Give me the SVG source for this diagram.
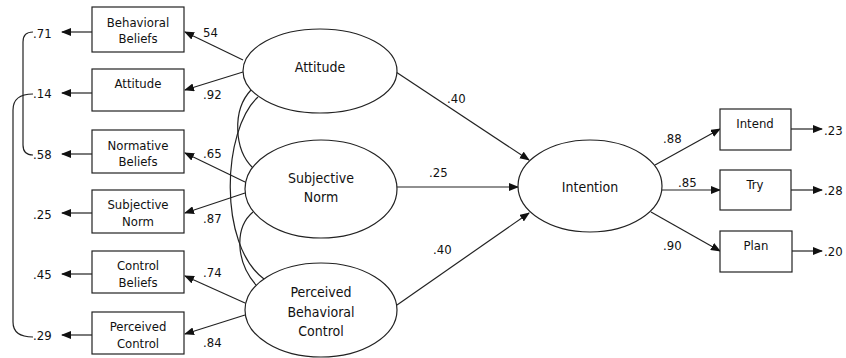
<svg xmlns="http://www.w3.org/2000/svg" width="846" height="358" viewBox="0 0 846 358">
<style>
text{font-family:"DejaVu Sans Condensed","DejaVu Sans",sans-serif;font-size:13px;fill:#111;}
.big{font-size:14px;}
.m{text-anchor:middle;}
.box{fill:#fff;stroke:#222;stroke-width:1.2;}
.ell{fill:#fff;stroke:#222;stroke-width:1.2;}
.c line,.c path{stroke:#222;stroke-width:1.2;fill:none;}
</style>
<defs>
<marker id="ah" markerUnits="userSpaceOnUse" markerWidth="10" markerHeight="8" refX="9" refY="4" orient="auto">
<path d="M0,0 L10,4 L0,8 Z" fill="#111"/>
</marker>
</defs>
<rect width="846" height="358" fill="#fff"/>
<g class="c" id="connectors">
<!-- residual brackets -->
<path d="M33,32 Q23,32 23,42 L23,145 Q23,155 33,155"/>
<path d="M33,94 Q13,94 13,110 L13,322 Q13,337 33,337"/>
<!-- correlations -->
<path d="M258,97 C222,130 218,245 264,279"/>
<path d="M251,90 C232,110 234,150 253,168"/>
<path d="M253,212 C234,228 236,262 256,285"/>
<!-- residual arrows left -->
<line x1="92" y1="32" x2="62" y2="32" marker-end="url(#ah)"/>
<line x1="92" y1="93" x2="62" y2="93" marker-end="url(#ah)"/>
<line x1="92" y1="154" x2="62" y2="154" marker-end="url(#ah)"/>
<line x1="92" y1="213" x2="62" y2="213" marker-end="url(#ah)"/>
<line x1="92" y1="274" x2="62" y2="274" marker-end="url(#ah)"/>
<line x1="92" y1="335" x2="62" y2="335" marker-end="url(#ah)"/>
<!-- loadings left -->
<line x1="243" y1="60" x2="185" y2="32" marker-end="url(#ah)"/>
<line x1="243" y1="72" x2="185" y2="90" marker-end="url(#ah)"/>
<line x1="245" y1="182" x2="185" y2="153" marker-end="url(#ah)"/>
<line x1="245" y1="193" x2="185" y2="213" marker-end="url(#ah)"/>
<line x1="245" y1="303" x2="185" y2="276" marker-end="url(#ah)"/>
<line x1="245" y1="315" x2="185" y2="334" marker-end="url(#ah)"/>
<!-- structural -->
<line x1="396" y1="72" x2="529" y2="160" marker-end="url(#ah)"/>
<line x1="397" y1="187" x2="518" y2="187" marker-end="url(#ah)"/>
<line x1="397" y1="305" x2="529" y2="213" marker-end="url(#ah)"/>
<!-- intention indicators -->
<line x1="655" y1="165" x2="720" y2="129" marker-end="url(#ah)"/>
<line x1="662" y1="190" x2="720" y2="190" marker-end="url(#ah)"/>
<line x1="651" y1="212" x2="720" y2="251" marker-end="url(#ah)"/>
<!-- residual arrows right -->
<line x1="791" y1="129" x2="822" y2="129" marker-end="url(#ah)"/>
<line x1="791" y1="190" x2="822" y2="190" marker-end="url(#ah)"/>
<line x1="792" y1="251" x2="822" y2="251" marker-end="url(#ah)"/>
</g>
<g id="labels">
<text x="33" y="38">.71</text>
<text x="33" y="98">.14</text>
<text x="33" y="159">.58</text>
<text x="33" y="219">.25</text>
<text x="33" y="279">.45</text>
<text x="33" y="340">.29</text>
<text x="203" y="37">54</text>
<text x="203" y="99">.92</text>
<text x="203" y="158">.65</text>
<text x="203" y="223">.87</text>
<text x="203" y="277">.74</text>
<text x="203" y="347">.84</text>
<text x="447" y="103">.40</text>
<text x="429" y="177">.25</text>
<text x="433" y="254">.40</text>
<text x="663" y="143">.88</text>
<text x="678" y="187">.85</text>
<text x="663" y="250">.90</text>
<text x="824" y="135">.23</text>
<text x="824" y="195">.28</text>
<text x="824" y="256">.20</text>
</g>
<g id="behavioral-beliefs"><rect class="box" x="92" y="7" width="92" height="45"/><text class="m" x="138" y="27">Behavioral</text><text class="m" x="138" y="43">Beliefs</text></g>
<g id="attitude-rect"><rect class="box" x="92" y="69" width="92" height="42"/><text class="m" x="138" y="88">Attitude</text></g>
<g id="normative-beliefs"><rect class="box" x="92" y="130" width="92" height="43"/><text class="m" x="138" y="150">Normative</text><text class="m" x="138" y="166">Beliefs</text></g>
<g id="subjective-norm-rect"><rect class="box" x="92" y="190" width="92" height="43"/><text class="m" x="138" y="209">Subjective</text><text class="m" x="138" y="226">Norm</text></g>
<g id="control-beliefs"><rect class="box" x="92" y="251" width="92" height="42"/><text class="m" x="138" y="270">Control</text><text class="m" x="138" y="287">Beliefs</text></g>
<g id="perceived-control"><rect class="box" x="92" y="312" width="92" height="42"/><text class="m" x="138" y="331">Perceived</text><text class="m" x="138" y="348">Control</text></g>
<g id="attitude"><ellipse class="ell" cx="320" cy="71" rx="77" ry="42"/><text class="m big" x="320" y="72">Attitude</text></g>
<g id="subjective-norm"><ellipse class="ell" cx="321" cy="189" rx="76" ry="49"/><text class="m big" x="321" y="183">Subjective</text><text class="m big" x="321" y="202">Norm</text></g>
<g id="pbc"><ellipse class="ell" cx="321" cy="310" rx="76" ry="47"/><text class="m big" x="321" y="297">Perceived</text><text class="m big" x="321" y="317">Behavioral</text><text class="m big" x="321" y="336">Control</text></g>
<g id="intention"><ellipse class="ell" cx="590" cy="186" rx="72" ry="46"/><text class="m big" x="590" y="192">Intention</text></g>
<g id="intend"><rect class="box" x="720" y="109" width="71" height="41"/><text class="m" x="755" y="128">Intend</text></g>
<g id="try"><rect class="box" x="720" y="170" width="71" height="40"/><text class="m" x="755" y="189">Try</text></g>
<g id="plan"><rect class="box" x="720" y="231" width="72" height="41"/><text class="m" x="756" y="250">Plan</text></g>
</svg>
